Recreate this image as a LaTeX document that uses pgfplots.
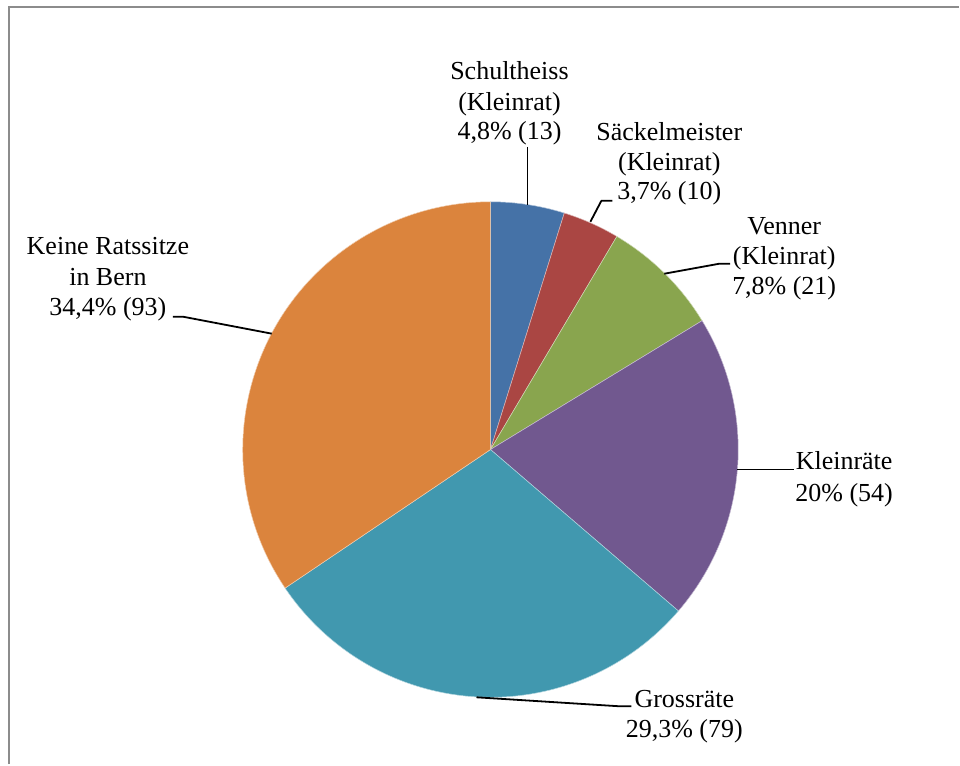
\documentclass[border=0pt]{standalone}
\usepackage{pgfplots}
\pgfplotsset{compat=1.18}
\usepackage{fontspec}
\setmainfont{Liberation Serif}
\definecolor{csch}{HTML}{4572A7}
\definecolor{csak}{HTML}{AA4643}
\definecolor{cven}{HTML}{89A54E}
\definecolor{ckle}{HTML}{71588F}
\definecolor{cgro}{HTML}{4198AF}
\definecolor{ckei}{HTML}{DB843D}
\definecolor{bordergray}{HTML}{8C8C8C}
% Pie values (persons), in order clockwise from 12 o'clock
\def\piedata{13/csch,10/csak,21/cven,54/ckle,79/cgro,93/ckei}
\def\pietotal{270}
\begin{document}
\begin{tikzpicture}[lbl/.style={anchor=base,inner sep=0pt,font=\fontsize{13bp}{15bp}\selectfont},
  leader/.style={black,line width=0.9bp,line join=round}]
\begin{axis}[
  scale only axis, width=480bp, height=382.5bp,
  xmin=0, xmax=960, ymin=0, ymax=765,
  hide axis, clip=false]
\path (axis cs:0,0) rectangle (axis cs:960,765);
\pgfplotsextra{
  \gdef\cum{0}
  \foreach \v/\col in \piedata {
    \pgfmathsetmacro\sa{90-(360/\pietotal)*\cum}
    \pgfmathsetmacro\ea{90-(360/\pietotal)*(\cum+\v)}
    \fill[\col,draw=white!60!\col,line width=0.25bp] (axis cs:491,315) -- ++(\sa:124bp) arc[start angle=\sa, end angle=\ea, radius=124bp] -- cycle;
    \pgfmathsetmacro\nc{\cum+\v}\xdef\cum{\nc}
  }
  % border
  \draw[bordergray,line width=1bp] (axis cs:9,0) -- (axis cs:9,758) -- (axis cs:960,758);
  % leader lines
  \draw[leader] (axis cs:528,618) -- (axis cs:528,560);
  \draw[leader] (axis cs:613,564) -- (axis cs:602,564) -- (axis cs:591,543);
  \draw[leader] (axis cs:665,491) -- (axis cs:720,501) -- (axis cs:731,501);
  \draw[leader] (axis cs:738,295) -- (axis cs:795,295);
  \draw[leader] (axis cs:477,67) -- (axis cs:620,58) -- (axis cs:632,58);
  \draw[leader] (axis cs:173,448) -- (axis cs:183,448) -- (axis cs:272,431);
  % labels
  \node[lbl] at (axis cs:510,685) {Schultheiss};
  \node[lbl] at (axis cs:510,654) {(Kleinrat)};
  \node[lbl] at (axis cs:510,625) {4,8\% (13)};
  \node[lbl] at (axis cs:670,624) {Säckelmeister};
  \node[lbl] at (axis cs:670,594) {(Kleinrat)};
  \node[lbl] at (axis cs:670,565) {3,7\% (10)};
  \node[lbl] at (axis cs:785,530) {Venner};
  \node[lbl] at (axis cs:785,500) {(Kleinrat)};
  \node[lbl] at (axis cs:785,470) {7,8\% (21)};
  \node[lbl] at (axis cs:845,295) {Kleinräte};
  \node[lbl] at (axis cs:845,263) {20\% (54)};
  \node[lbl] at (axis cs:685,57) {Grossräte};
  \node[lbl] at (axis cs:685,27) {29,3\% (79)};
  \node[lbl] at (axis cs:108,510) {Keine Ratssitze};
  \node[lbl] at (axis cs:108,479) {in Bern};
  \node[lbl] at (axis cs:108,449) {34,4\% (93)};
}
\end{axis}
\end{tikzpicture}
\end{document}
